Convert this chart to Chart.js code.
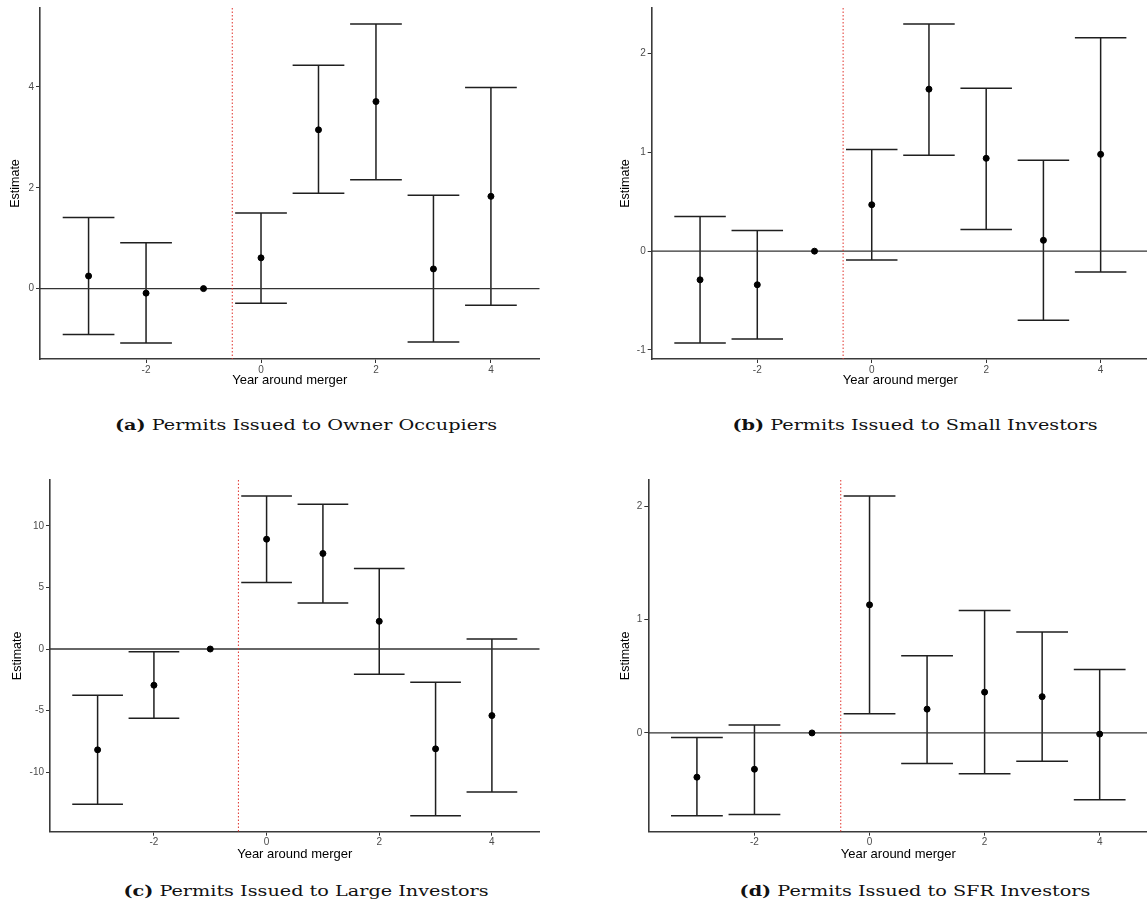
<!DOCTYPE html>
<html>
<head>
<meta charset="utf-8">
<script src="https://cdn.jsdelivr.net/npm/chart.js@4.4.1/dist/chart.umd.min.js"></script>
<style>
  html, body { margin: 0; padding: 0; background: #fff; overflow: hidden; }
  body { width: 1147px; height: 908px; position: relative; }
  canvas { position: absolute; }
  .caption {
    position: absolute; width: 600px; margin-left: -300px; text-align: center;
    font-family: "DejaVu Serif", "Liberation Serif", serif; font-size: 15.5px; color: #111;
    line-height: 20px; margin-top: -10px; white-space: nowrap;
    transform: scaleX(1.24);
  }
</style>
</head>
<body>
<canvas id="panelA" width="573" height="400" style="left:0;top:0"></canvas>
<canvas id="panelB" width="580" height="400" style="left:573px;top:0"></canvas>
<canvas id="panelC" width="573" height="400" style="left:0;top:470px"></canvas>
<canvas id="panelD" width="580" height="400" style="left:573px;top:470px"></canvas>
<div class="caption" style="left:306px;top:425px"><b>(a)</b> Permits Issued to Owner Occupiers</div>
<div class="caption" style="left:915px;top:425px"><b>(b)</b> Permits Issued to Small Investors</div>
<div class="caption" style="left:306px;top:891px"><b>(c)</b> Permits Issued to Large Investors</div>
<div class="caption" style="left:915px;top:891px"><b>(d)</b> Permits Issued to SFR Investors</div>
<script>
// event-study years, -1 is the reference year (no interval)
const years = [-3, -2, -1, 0, 1, 2, 3, 4];
const xTicks = [-2, 0, 2, 4];

const ownerEst = [0.25, -0.09, 0, 0.61, 3.15, 3.71, 0.39, 1.83];
const ownerLo = [-0.91, -1.08, null, -0.29, 1.89, 2.16, -1.06, -0.33];
const ownerHi = [1.41, 0.91, null, 1.50, 4.43, 5.25, 1.85, 3.99];
const ownerTicks = [0, 2, 4];

const smallEst = [-0.29, -0.34, 0, 0.47, 1.64, 0.94, 0.11, 0.98];
const smallLo = [-0.93, -0.89, null, -0.09, 0.97, 0.22, -0.70, -0.21];
const smallHi = [0.35, 0.21, null, 1.03, 2.30, 1.65, 0.92, 2.16];
const smallTicks = [-1, 0, 1, 2];

const largeEst = [-8.19, -2.94, 0, 8.92, 7.76, 2.25, -8.11, -5.41];
const largeLo = [-12.6, -5.62, null, 5.41, 3.73, -2.05, -13.54, -11.62];
const largeHi = [-3.75, -0.22, null, 12.43, 11.76, 6.54, -2.70, 0.81];
const largeTicks = [-10, -5, 0, 5, 10];

const sfrEst = [-0.39, -0.32, 0, 1.13, 0.21, 0.36, 0.32, -0.01];
const sfrLo = [-0.73, -0.72, null, 0.17, -0.27, -0.36, -0.25, -0.59];
const sfrHi = [-0.04, 0.07, null, 2.09, 0.68, 1.08, 0.89, 0.56];
const sfrTicks = [0, 1, 2];

const capHalf = 0.45;
const mergerLine = -0.5;

// intervals, zero line and the dotted merger line
const errorBars = {
  id: 'errorBars',
  beforeDatasetsDraw(chart, args, opts) {
    const { ctx, chartArea, scales: { x, y } } = chart;
    ctx.save();
    ctx.strokeStyle = '#1f1f1f';
    ctx.lineWidth = 1.5;
    opts.lo.forEach((lo, i) => {
      const hi = opts.hi[i];
      if (lo === null || hi === null) return;
      const px = x.getPixelForValue(years[i]);
      const x1 = x.getPixelForValue(years[i] - capHalf);
      const x2 = x.getPixelForValue(years[i] + capHalf);
      const yl = y.getPixelForValue(lo);
      const yh = y.getPixelForValue(hi);
      ctx.beginPath();
      ctx.moveTo(px, yl); ctx.lineTo(px, yh);
      ctx.moveTo(x1, yl); ctx.lineTo(x2, yl);
      ctx.moveTo(x1, yh); ctx.lineTo(x2, yh);
      ctx.stroke();
    });
    const y0 = y.getPixelForValue(0);
    ctx.strokeStyle = '#333';
    ctx.lineWidth = 1.3;
    ctx.beginPath();
    ctx.moveTo(chartArea.left, y0); ctx.lineTo(chartArea.right, y0);
    ctx.stroke();
    const xm = x.getPixelForValue(mergerLine);
    ctx.strokeStyle = '#e0322b';
    ctx.lineWidth = 1;
    ctx.setLineDash([1.5, 2]);
    ctx.beginPath();
    ctx.moveTo(xm, chartArea.top); ctx.lineTo(xm, chartArea.bottom);
    ctx.stroke();
    ctx.restore();
  }
};

const makePanel = (id, est, lo, hi, yTicks, box) => {
  // ggplot style 5% expansion on both axes
  const yMin = Math.min(...lo.filter(v => v !== null));
  const yMax = Math.max(...hi.filter(v => v !== null));
  const yPad = (yMax - yMin) * 0.05;
  const xMin = years[0] - capHalf, xMax = years[years.length - 1] + capHalf;
  const xPad = (xMax - xMin) * 0.05;

  return new Chart(document.getElementById(id), {
    type: 'scatter',
    data: {
      datasets: [{
        data: years.map((yr, i) => ({ x: yr, y: est[i] })),
        backgroundColor: '#000',
        borderColor: '#000',
        pointRadius: 3,
        pointHoverRadius: 3
      }]
    },
    options: {
      responsive: false,
      animation: false,
      events: [],
      layout: { padding: box.pad },
      plugins: {
        legend: { display: false },
        tooltip: { enabled: false },
        errorBars: { lo, hi }
      },
      scales: {
        x: {
          type: 'linear',
          min: xMin - xPad,
          max: xMax + xPad,
          afterBuildTicks: s => { s.ticks = xTicks.map(v => ({ value: v })); },
          afterFit: s => { s.height = box.xh; },
          grid: { drawOnChartArea: false, tickLength: 4, color: '#333' },
          border: { color: '#3a3a3a', width: 1.6 },
          ticks: { color: '#4d4d4d', font: { family: 'Liberation Sans', size: 10 }, padding: 1, maxRotation: 0 },
          title: { display: true, text: 'Year around merger', color: '#000', padding: 0,
                   font: { family: 'Liberation Sans', size: 13 } }
        },
        y: {
          min: yMin - yPad,
          max: yMax + yPad,
          afterBuildTicks: s => { s.ticks = yTicks.map(v => ({ value: v })); },
          afterFit: s => { s.width = box.yw; },
          grid: { drawOnChartArea: false, tickLength: 4, color: '#333' },
          border: { color: '#3a3a3a', width: 1.6 },
          ticks: { color: '#4d4d4d', font: { family: 'Liberation Sans', size: 10 }, padding: 2 },
          title: { display: true, text: 'Estimate', color: '#000', padding: 0,
                   font: { family: 'Liberation Sans', size: 12.5 } }
        }
      }
    },
    plugins: [errorBars]
  });
};

makePanel('panelA', ownerEst, ownerLo, ownerHi, ownerTicks,
  { pad: { left: 8.3, top: 7, right: 33.5, bottom: 12.2 }, yw: 31.7, xh: 28.8 });
makePanel('panelB', smallEst, smallLo, smallHi, smallTicks,
  { pad: { left: 44.8, top: 7, right: 3.9, bottom: 12.2 }, yw: 33.9, xh: 28.8 });
makePanel('panelC', largeEst, largeLo, largeHi, largeTicks,
  { pad: { left: 10.3, top: 10, right: 33.5, bottom: 8.2 }, yw: 39.7, xh: 30.1 });
makePanel('panelD', sfrEst, sfrLo, sfrHi, sfrTicks,
  { pad: { left: 44.8, top: 10, right: 4.7, bottom: 8.2 }, yw: 30.5, xh: 30.1 });
</script>
</body>
</html>
